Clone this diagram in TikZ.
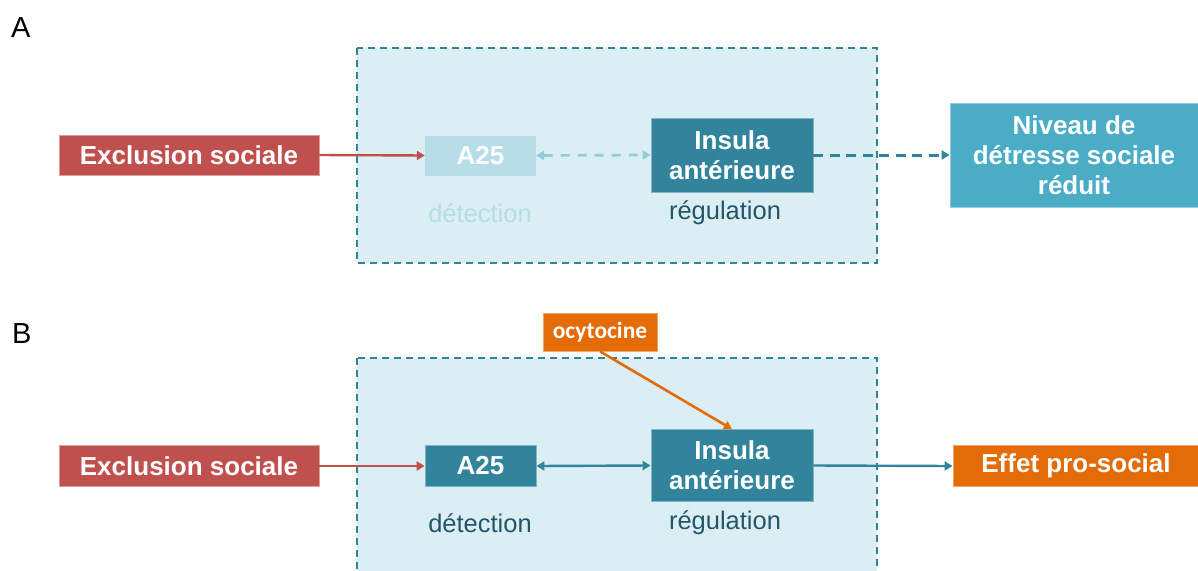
\documentclass[tikz,border=0pt]{standalone}
\usepackage{fontspec}
\setmainfont{Liberation Sans}
\newfontfamily\calibfont{Carlito}
\usetikzlibrary{arrows.meta}
\definecolor{cred}{HTML}{C0504D}
\definecolor{cteal}{HTML}{31849B}
\definecolor{cfaint}{HTML}{B7DDE8}
\definecolor{cfill}{HTML}{DAEEF3}
\definecolor{cniv}{HTML}{4BACC6}
\definecolor{corange}{HTML}{E36C09}
\definecolor{cdark}{HTML}{24566B}
\definecolor{cdash}{HTML}{92CDDC}
\begin{document}
\begin{tikzpicture}[x=1pt,y=-1pt,
  box/.style={inner sep=0pt, font=\fontsize{26}{30}\selectfont\bfseries, text=white, align=center},
  lab/.style={inner sep=0pt, font=\fontsize{25.5}{28}\selectfont},
  panel/.style={fill=cfill, draw=cteal, line width=2pt, dash pattern=on 7pt off 5pt},
  tip/.style={-{Triangle[length=8pt,width=9pt]}},
  dtip/.style={{Triangle[length=8pt,width=9pt]}-{Triangle[length=8pt,width=9pt]}},
  letter/.style={inner sep=0pt, anchor=base west, font=\fontsize{29}{32}\selectfont}]
\useasboundingbox (0,0) rectangle (1198,570);
% ---------------- Panel A
\node[letter] (la) at (11,37) {A};
\draw[panel] (357,48) rectangle (877,263);
\node[box, fill=cred, draw=cred!55!white, line width=0.8pt, minimum width=260pt, minimum height=40pt] (exA) at (189,155) {Exclusion sociale};
\node[box, fill=cfaint, minimum width=111pt, minimum height=40pt] (a25A) at (480.5,155.5) {A25};
\node[box, fill=cteal, draw=cteal!60!white, line width=0.8pt, minimum width=162pt, minimum height=74pt] (insA) at (732,155) {Insula\\antérieure};
\node[box, fill=cniv, draw=cniv!60!white, line width=0.8pt, minimum width=248pt, minimum height=104pt] (niv) at (1074,155) {Niveau de\\détresse sociale\\réduit};
\node[lab, text=cfaint] (detA) at (480,213) {détection};
\node[lab, text=cdark] (regA) at (725,213) {régulation};
\draw[cred, line width=2.4pt, tip] (exA.east) -- (a25A.west);
\draw[cdash, line width=2.7pt, dtip, dash pattern=on 9pt off 8pt] (a25A.east) -- (insA.west);
\draw[cteal, line width=3pt, tip, dash pattern=on 10pt off 6.5pt] (insA.east) -- (niv.west);
% ---------------- Panel B
\node[letter] (lb) at (12,343) {B};
\draw[panel] (357,358) rectangle (877,580);
\node[box, fill=cred, draw=cred!55!white, line width=0.8pt, minimum width=260pt, minimum height=41pt] (exB) at (189,466) {Exclusion sociale};
\node[box, fill=cteal, draw=cteal!60!white, line width=0.8pt, minimum width=111pt, minimum height=41pt] (a25B) at (480.5,466) {A25};
\node[box, fill=cteal, draw=cteal!60!white, line width=0.8pt, minimum width=162pt, minimum height=72pt] (insB) at (732,465.5) {Insula\\antérieure};
\node[box, fill=corange, draw=corange!60!white, line width=0.8pt, minimum width=246pt, minimum height=41pt] (eff) at (1076,466) {Effet pro-social};
\node[box, fill=corange, draw=corange!60!white, line width=0.8pt, minimum width=114pt, minimum height=38pt, font=\calibfont\fontsize{23.5}{26}\selectfont\bfseries] (ocy) at (600,332) {ocytocine};
\node[lab, text=cdark] (detB) at (480,523) {détection};
\node[lab, text=cdark] (regB) at (725,523) {régulation};
\draw[cred, line width=2.4pt, tip] (exB.east) -- (a25B.west);
\draw[cteal, line width=2.4pt, dtip] (a25B.east) -- (insB.west);
\draw[cteal, line width=2.4pt, tip] (insB.east) -- (eff.west);
\draw[corange, line width=2.6pt, tip] (ocy.south) -- (insB.north);
\end{tikzpicture}
\end{document}
